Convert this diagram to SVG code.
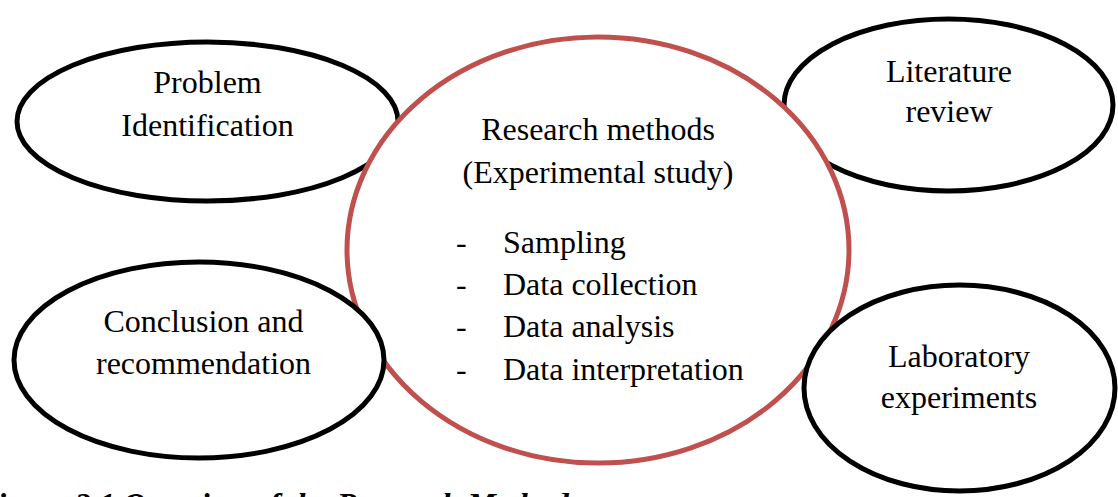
<svg xmlns="http://www.w3.org/2000/svg" width="1118" height="497" viewBox="0 0 1118 497">
  <style>
    .node { fill: #ffffff; stroke: #000000; stroke-width: 5; }
    .core { fill: #ffffff; stroke: #C0504D; stroke-width: 5; }
    .label { font-family: "Liberation Serif", "Times New Roman", serif; font-size: 32px; fill: #000000; }
    .mid { text-anchor: middle; }
    .caption { font-family: "Liberation Serif", "Times New Roman", serif; font-size: 32px; font-weight: bold; font-style: italic; fill: #000000; }
  </style>
  <rect x="0" y="0" width="1118" height="497" fill="#ffffff"/>

  <g id="problem-identification">
    <ellipse class="node" cx="207.5" cy="121.5" rx="190.5" ry="79.5"/>
    <text class="label mid" x="207.5" y="93">Problem</text>
    <text class="label mid" x="207.5" y="136">Identification</text>
  </g>

  <g id="literature-review">
    <ellipse class="node" cx="948.5" cy="105" rx="164.5" ry="86"/>
    <text class="label mid" x="949" y="82">Literature</text>
    <text class="label mid" x="949" y="122">review</text>
  </g>

  <g id="research-methods">
    <ellipse class="core" cx="598" cy="250" rx="251" ry="213"/>
    <text class="label mid" x="598" y="140">Research methods</text>
    <text class="label mid" x="598" y="183">(Experimental study)</text>
    <text class="label" x="456" y="253">-</text>
    <text class="label" x="503" y="253">Sampling</text>
    <text class="label" x="456" y="295">-</text>
    <text class="label" x="503" y="295">Data collection</text>
    <text class="label" x="456" y="337">-</text>
    <text class="label" x="503" y="337">Data analysis</text>
    <text class="label" x="456" y="380">-</text>
    <text class="label" x="503" y="380">Data interpretation</text>
  </g>

  <g id="conclusion-recommendation">
    <ellipse class="node" cx="199" cy="360" rx="185" ry="98"/>
    <text class="label mid" x="203.5" y="332">Conclusion and</text>
    <text class="label mid" x="203.5" y="374">recommendation</text>
  </g>

  <g id="laboratory-experiments">
    <ellipse class="node" cx="959.5" cy="388" rx="155.5" ry="103"/>
    <text class="label mid" x="959" y="367">Laboratory</text>
    <text class="label mid" x="959" y="408">experiments</text>
  </g>

  <g id="connectors"/>

  <text class="caption" x="-24" y="515">Figure 3.1 Overview of the Research Methods</text>
</svg>
